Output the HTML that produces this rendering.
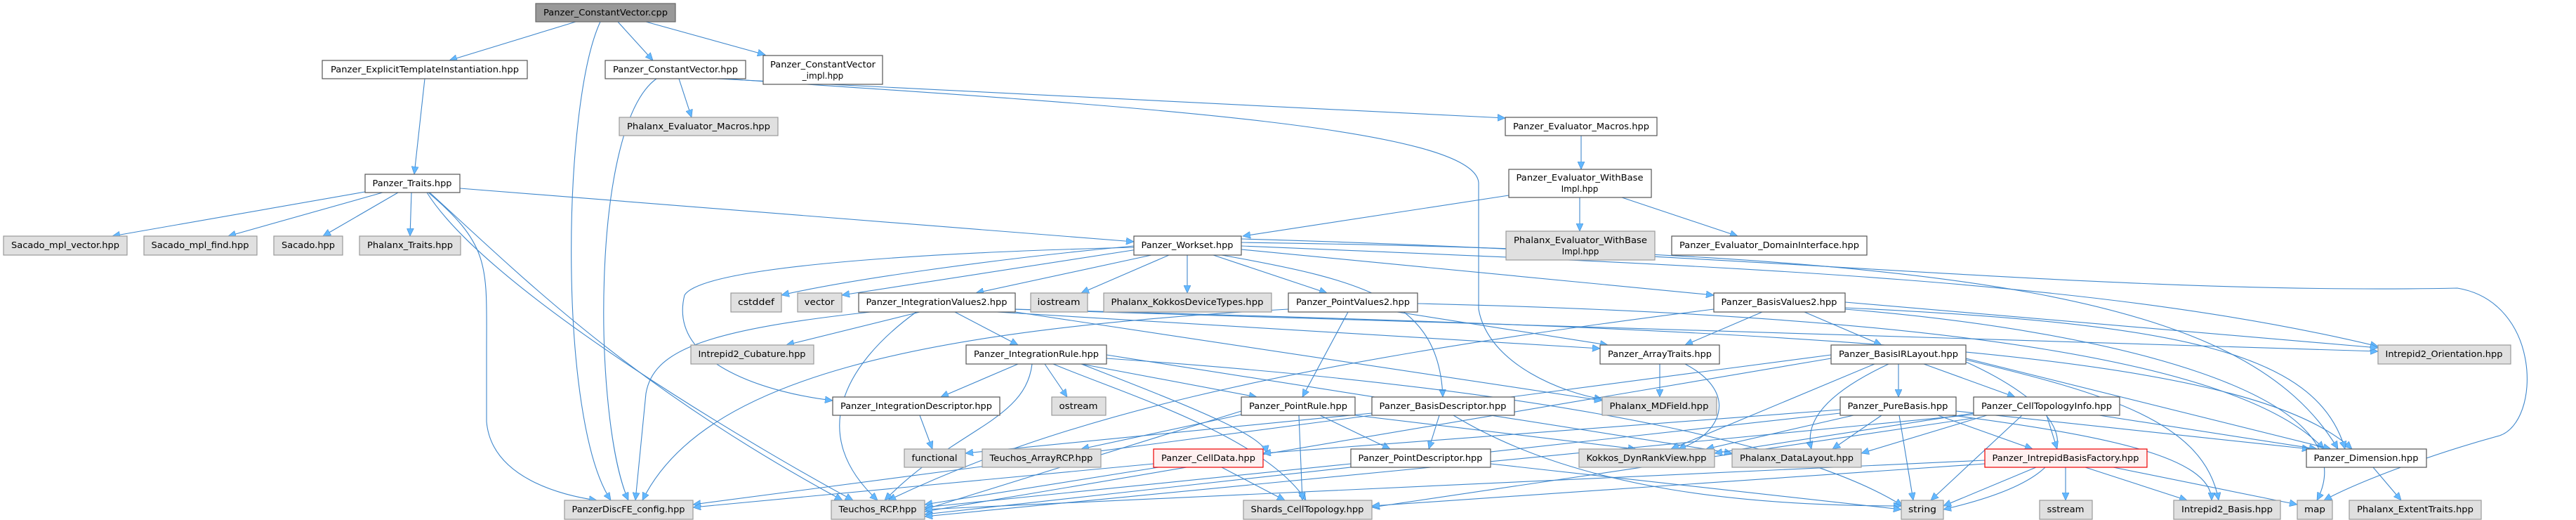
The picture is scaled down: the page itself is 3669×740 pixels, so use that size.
<!DOCTYPE html>
<html><head><meta charset="utf-8"><style>
html,body{margin:0;padding:0;background:#fff;}
svg{display:block;}
.n rect{stroke:#555;stroke-width:1.2;}
.w rect{fill:#fff;}
.g rect{fill:#e0e0e0;stroke:#999;}
.r rect{fill:#fff0f0;stroke:#e00;}
.root rect{fill:#999;stroke:#666;}
text{font-family:"DejaVu Sans","Liberation Sans",sans-serif;font-size:12px;fill:#000;}
.e path{fill:none;stroke:#3f87cc;stroke-width:1.1;marker-end:url(#ah);}
</style></head><body>
<svg width="3669" height="740" viewBox="0 0 3669 740" xmlns="http://www.w3.org/2000/svg">
<defs><marker id="ah" markerUnits="userSpaceOnUse" markerWidth="12" markerHeight="10" refX="11" refY="5" orient="auto"><path d="M0,0 L11,5 L0,10 z" fill="#63b8ff" stroke="#3f87cc" stroke-width="0.6"/></marker></defs>
<g class="e">
<path d="M820 31 L640 86"/>
<path d="M880 31 L930 86"/>
<path d="M920 31 L1090 78"/>
<path d="M855 31 C800 150 795 600 870 712"/>
<path d="M605 112 L590 248"/>
<path d="M967 112 L985 167"/>
<path d="M1020 112 L2144 168"/>
<path d="M935 112 C840 180 845 600 895 712"/>
<path d="M1030 112 C1600 150 2100 180 2106 260 L2106 440 C2120 520 2230 560 2282 568"/>
<path d="M2252 193 L2252 241"/>
<path d="M2250 281 L2250 329"/>
<path d="M2310 281 L2475 336"/>
<path d="M2149 278 L1770 336"/>
<path d="M520 273 L160 336"/>
<path d="M545 274 L325 336"/>
<path d="M567 274 L460 336"/>
<path d="M586 274 L584 336"/>
<path d="M655 268 L1615 344"/>
<path d="M610 274 C700 350 693 380 693 500 L693 600 C700 680 800 705 850 712"/>
<path d="M612 274 C750 400 900 550 1200 712"/>
<path d="M608 274 C700 420 1100 650 1215 712"/>
<path d="M1615 350 C1400 370 1200 400 1113 420"/>
<path d="M1620 355 L1199 420"/>
<path d="M1640 363 L1390 417"/>
<path d="M1665 363 L1540 417"/>
<path d="M1691 363 L1691 417"/>
<path d="M1728 363 L1890 417"/>
<path d="M1768 355 L2441 420"/>
<path d="M1615 352 C1300 360 1000 380 975 420 C950 520 1100 560 1186 570"/>
<path d="M1740 363 C1950 400 2050 430 2055 565"/>
<path d="M1768 350 C2500 380 3000 400 3387 493"/>
<path d="M1768 345 C2800 360 3200 420 3330 639"/>
<path d="M1768 340 C2500 360 3000 420 3500 410 C3620 430 3620 600 3560 620 C3450 650 3350 690 3310 712"/>
<path d="M1310 444 L1120 491"/>
<path d="M1360 444 L1450 491"/>
<path d="M1240 444 C1000 470 930 500 920 560 L905 712"/>
<path d="M1305 444 C1200 520 1150 620 1250 712"/>
<path d="M1420 444 L2279 496"/>
<path d="M1446 440 C2600 470 3200 500 3350 639"/>
<path d="M1446 444 L2282 570"/>
<path d="M1440 440 L3387 500"/>
<path d="M1920 444 L1855 565"/>
<path d="M1990 444 L2290 491"/>
<path d="M2019 432 C2800 450 3200 520 3310 639"/>
<path d="M1835 440 C1300 470 1000 540 915 712"/>
<path d="M2510 444 L2400 491"/>
<path d="M2570 444 L2680 491"/>
<path d="M2628 430 L3387 495"/>
<path d="M2628 438 C3100 460 3300 500 3340 639"/>
<path d="M2628 440 C3000 470 3380 560 3300 712"/>
<path d="M2441 440 C1800 520 1500 600 1265 712"/>
<path d="M1450 518 L1340 565"/>
<path d="M1488 518 L1520 565"/>
<path d="M1540 518 L1790 565"/>
<path d="M1470 518 C1460 600 1360 610 1260 712"/>
<path d="M1500 518 C1600 560 1800 620 1860 712"/>
<path d="M1540 518 C1700 580 1800 620 1804 645"/>
<path d="M1576 510 C2300 560 2600 650 2710 720"/>
<path d="M1576 505 L2467 645"/>
<path d="M1310 591 L1328 639"/>
<path d="M1880 591 L1980 639"/>
<path d="M1850 591 L1855 712"/>
<path d="M1768 585 L1317 725"/>
<path d="M1930 591 L2330 639"/>
<path d="M1768 590 L1540 639"/>
<path d="M2050 591 L2035 639"/>
<path d="M2070 591 C2250 700 2500 720 2708 720"/>
<path d="M1954 588 L1375 645"/>
<path d="M2364 518 L2364 565"/>
<path d="M2400 518 C2480 560 2450 620 2390 639"/>
<path d="M2704 518 L2704 565"/>
<path d="M2740 518 L2870 565"/>
<path d="M2800 510 L3320 639"/>
<path d="M2800 515 C2900 560 3050 660 2768 725"/>
<path d="M2608 510 L1317 728"/>
<path d="M2670 518 L2380 639"/>
<path d="M2690 518 C2600 560 2570 600 2580 639"/>
<path d="M2800 512 C3000 560 3140 600 3160 712"/>
<path d="M2608 505 L987 718"/>
<path d="M2705 591 L2725 712"/>
<path d="M2760 591 L2895 639"/>
<path d="M2621 588 L1317 732"/>
<path d="M2621 583 L1799 645"/>
<path d="M2640 591 L2430 639"/>
<path d="M2680 591 L2610 639"/>
<path d="M2780 591 C3000 620 3150 650 3150 712"/>
<path d="M2786 585 L3290 639"/>
<path d="M2915 591 L2930 639"/>
<path d="M2880 591 L2750 712"/>
<path d="M2990 591 L3300 639"/>
<path d="M2811 590 L1317 735"/>
<path d="M2811 595 L1954 722"/>
<path d="M2830 591 L2651 645"/>
<path d="M2811 588 L2442 645"/>
<path d="M1650 665 L1317 718"/>
<path d="M1740 665 L1830 712"/>
<path d="M1643 660 L987 722"/>
<path d="M1924 660 L1317 722"/>
<path d="M2123 660 L2708 725"/>
<path d="M2942 665 L2942 712"/>
<path d="M2900 665 L2768 720"/>
<path d="M3010 665 L3272 718"/>
<path d="M2970 665 L3115 712"/>
<path d="M2827 655 L1317 725"/>
<path d="M2827 660 L1954 720"/>
<path d="M3380 665 L3420 712"/>
</g>

<g class="n root"><rect x="763" y="5" width="199" height="26"/><text x="862.5" y="22" text-anchor="middle" textLength="177" lengthAdjust="spacingAndGlyphs">Panzer_ConstantVector.cpp</text></g>
<g class="n w"><rect x="459" y="86" width="292" height="26"/><text x="605" y="103" text-anchor="middle" textLength="268" lengthAdjust="spacingAndGlyphs">Panzer_ExplicitTemplateInstantiation.hpp</text></g>
<g class="n w"><rect x="862" y="86" width="200" height="26"/><text x="962" y="103" text-anchor="middle" textLength="178" lengthAdjust="spacingAndGlyphs">Panzer_ConstantVector.hpp</text></g>
<g class="n w"><rect x="1087" y="79" width="170" height="41"/><text x="1172" y="96" text-anchor="middle" textLength="150" lengthAdjust="spacingAndGlyphs">Panzer_ConstantVector</text><text x="1172" y="112" text-anchor="middle">_impl.hpp</text></g>
<g class="n g"><rect x="882" y="167" width="226" height="26"/><text x="995" y="184" text-anchor="middle" textLength="204" lengthAdjust="spacingAndGlyphs">Phalanx_Evaluator_Macros.hpp</text></g>
<g class="n w"><rect x="2144" y="167" width="216" height="26"/><text x="2252" y="184" text-anchor="middle" textLength="194" lengthAdjust="spacingAndGlyphs">Panzer_Evaluator_Macros.hpp</text></g>
<g class="n w"><rect x="2149" y="241" width="203" height="40"/><text x="2250" y="257" text-anchor="middle" textLength="181" lengthAdjust="spacingAndGlyphs">Panzer_Evaluator_WithBase</text><text x="2250" y="273" text-anchor="middle">Impl.hpp</text></g>
<g class="n w"><rect x="520" y="248" width="135" height="26"/><text x="587" y="265" text-anchor="middle" textLength="113" lengthAdjust="spacingAndGlyphs">Panzer_Traits.hpp</text></g>
<g class="n g"><rect x="5" y="336" width="176" height="27"/><text x="93" y="353" text-anchor="middle" textLength="154" lengthAdjust="spacingAndGlyphs">Sacado_mpl_vector.hpp</text></g>
<g class="n g"><rect x="205" y="336" width="161" height="27"/><text x="285" y="353" text-anchor="middle" textLength="139" lengthAdjust="spacingAndGlyphs">Sacado_mpl_find.hpp</text></g>
<g class="n g"><rect x="390" y="336" width="98" height="27"/><text x="439" y="353" text-anchor="middle" textLength="76" lengthAdjust="spacingAndGlyphs">Sacado.hpp</text></g>
<g class="n g"><rect x="512" y="336" width="144" height="27"/><text x="584" y="353" text-anchor="middle" textLength="122" lengthAdjust="spacingAndGlyphs">Phalanx_Traits.hpp</text></g>
<g class="n w"><rect x="1615" y="336" width="153" height="27"/><text x="1691" y="353" text-anchor="middle" textLength="131" lengthAdjust="spacingAndGlyphs">Panzer_Workset.hpp</text></g>
<g class="n g"><rect x="2145" y="329" width="212" height="41"/><text x="2251" y="346" text-anchor="middle" textLength="190" lengthAdjust="spacingAndGlyphs">Phalanx_Evaluator_WithBase</text><text x="2251" y="362" text-anchor="middle">Impl.hpp</text></g>
<g class="n w"><rect x="2381" y="336" width="278" height="27"/><text x="2520" y="353" text-anchor="middle" textLength="256" lengthAdjust="spacingAndGlyphs">Panzer_Evaluator_DomainInterface.hpp</text></g>

<g class="n g"><rect x="1041" y="417" width="72" height="27"/><text x="1077" y="434" text-anchor="middle" textLength="52" lengthAdjust="spacingAndGlyphs">cstddef</text></g>
<g class="n g"><rect x="1136" y="417" width="63" height="27"/><text x="1167" y="434" text-anchor="middle" textLength="43" lengthAdjust="spacingAndGlyphs">vector</text></g>
<g class="n w"><rect x="1223" y="417" width="223" height="27"/><text x="1334" y="434" text-anchor="middle" textLength="201" lengthAdjust="spacingAndGlyphs">Panzer_IntegrationValues2.hpp</text></g>
<g class="n g"><rect x="1468" y="417" width="81" height="27"/><text x="1508" y="434" text-anchor="middle" textLength="61" lengthAdjust="spacingAndGlyphs">iostream</text></g>
<g class="n g"><rect x="1572" y="417" width="239" height="27"/><text x="1691" y="434" text-anchor="middle" textLength="217" lengthAdjust="spacingAndGlyphs">Phalanx_KokkosDeviceTypes.hpp</text></g>
<g class="n w"><rect x="1835" y="417" width="184" height="27"/><text x="1927" y="434" text-anchor="middle" textLength="162" lengthAdjust="spacingAndGlyphs">Panzer_PointValues2.hpp</text></g>
<g class="n w"><rect x="2441" y="417" width="187" height="27"/><text x="2534" y="434" text-anchor="middle" textLength="165" lengthAdjust="spacingAndGlyphs">Panzer_BasisValues2.hpp</text></g>

<g class="n g"><rect x="984" y="491" width="175" height="27"/><text x="1071" y="508" text-anchor="middle" textLength="153" lengthAdjust="spacingAndGlyphs">Intrepid2_Cubature.hpp</text></g>
<g class="n w"><rect x="1376" y="491" width="200" height="27"/><text x="1476" y="508" text-anchor="middle" textLength="178" lengthAdjust="spacingAndGlyphs">Panzer_IntegrationRule.hpp</text></g>
<g class="n w"><rect x="2279" y="491" width="170" height="27"/><text x="2364" y="508" text-anchor="middle" textLength="148" lengthAdjust="spacingAndGlyphs">Panzer_ArrayTraits.hpp</text></g>
<g class="n w"><rect x="2608" y="491" width="192" height="27"/><text x="2704" y="508" text-anchor="middle" textLength="170" lengthAdjust="spacingAndGlyphs">Panzer_BasisIRLayout.hpp</text></g>
<g class="n g"><rect x="3387" y="491" width="189" height="27"/><text x="3481" y="508" text-anchor="middle" textLength="167" lengthAdjust="spacingAndGlyphs">Intrepid2_Orientation.hpp</text></g>

<g class="n w"><rect x="1186" y="565" width="238" height="26"/><text x="1305" y="582" text-anchor="middle" textLength="216" lengthAdjust="spacingAndGlyphs">Panzer_IntegrationDescriptor.hpp</text></g>
<g class="n g"><rect x="1498" y="565" width="77" height="26"/><text x="1536" y="582" text-anchor="middle" textLength="55" lengthAdjust="spacingAndGlyphs">ostream</text></g>
<g class="n w"><rect x="1768" y="565" width="162" height="26"/><text x="1849" y="582" text-anchor="middle" textLength="140" lengthAdjust="spacingAndGlyphs">Panzer_PointRule.hpp</text></g>
<g class="n w"><rect x="1954" y="565" width="203" height="26"/><text x="2055" y="582" text-anchor="middle" textLength="181" lengthAdjust="spacingAndGlyphs">Panzer_BasisDescriptor.hpp</text></g>
<g class="n g"><rect x="2282" y="565" width="163" height="26"/><text x="2363" y="582" text-anchor="middle" textLength="141" lengthAdjust="spacingAndGlyphs">Phalanx_MDField.hpp</text></g>
<g class="n w"><rect x="2621" y="565" width="165" height="26"/><text x="2703" y="582" text-anchor="middle" textLength="143" lengthAdjust="spacingAndGlyphs">Panzer_PureBasis.hpp</text></g>
<g class="n w"><rect x="2811" y="565" width="208" height="26"/><text x="2915" y="582" text-anchor="middle" textLength="186" lengthAdjust="spacingAndGlyphs">Panzer_CellTopologyInfo.hpp</text></g>

<g class="n g"><rect x="1288" y="639" width="87" height="26"/><text x="1331" y="656" text-anchor="middle" textLength="65" lengthAdjust="spacingAndGlyphs">functional</text></g>
<g class="n g"><rect x="1399" y="639" width="169" height="26"/><text x="1483" y="656" text-anchor="middle" textLength="147" lengthAdjust="spacingAndGlyphs">Teuchos_ArrayRCP.hpp</text></g>
<g class="n r"><rect x="1643" y="639" width="156" height="26"/><text x="1721" y="656" text-anchor="middle" textLength="134" lengthAdjust="spacingAndGlyphs">Panzer_CellData.hpp</text></g>
<g class="n w"><rect x="1924" y="639" width="199" height="26"/><text x="2023" y="656" text-anchor="middle" textLength="177" lengthAdjust="spacingAndGlyphs">Panzer_PointDescriptor.hpp</text></g>
<g class="n g"><rect x="2249" y="639" width="193" height="26"/><text x="2345" y="656" text-anchor="middle" textLength="171" lengthAdjust="spacingAndGlyphs">Kokkos_DynRankView.hpp</text></g>
<g class="n g"><rect x="2467" y="639" width="184" height="26"/><text x="2559" y="656" text-anchor="middle" textLength="162" lengthAdjust="spacingAndGlyphs">Phalanx_DataLayout.hpp</text></g>
<g class="n r"><rect x="2827" y="639" width="231" height="26"/><text x="2942" y="656" text-anchor="middle" textLength="209" lengthAdjust="spacingAndGlyphs">Panzer_IntrepidBasisFactory.hpp</text></g>
<g class="n w"><rect x="3285" y="639" width="171" height="26"/><text x="3370" y="656" text-anchor="middle" textLength="149" lengthAdjust="spacingAndGlyphs">Panzer_Dimension.hpp</text></g>

<g class="n g"><rect x="804" y="712" width="183" height="27"/><text x="895" y="729" text-anchor="middle" textLength="161" lengthAdjust="spacingAndGlyphs">PanzerDiscFE_config.hpp</text></g>
<g class="n g"><rect x="1184" y="712" width="133" height="27"/><text x="1250" y="729" text-anchor="middle" textLength="111" lengthAdjust="spacingAndGlyphs">Teuchos_RCP.hpp</text></g>
<g class="n g"><rect x="1771" y="712" width="183" height="27"/><text x="1862" y="729" text-anchor="middle" textLength="161" lengthAdjust="spacingAndGlyphs">Shards_CellTopology.hpp</text></g>
<g class="n g"><rect x="2708" y="712" width="60" height="27"/><text x="2738" y="729" text-anchor="middle" textLength="40" lengthAdjust="spacingAndGlyphs">string</text></g>
<g class="n g"><rect x="2905" y="712" width="75" height="27"/><text x="2942" y="729" text-anchor="middle" textLength="53" lengthAdjust="spacingAndGlyphs">sstream</text></g>
<g class="n g"><rect x="3096" y="712" width="152" height="27"/><text x="3172" y="729" text-anchor="middle" textLength="130" lengthAdjust="spacingAndGlyphs">Intrepid2_Basis.hpp</text></g>
<g class="n g"><rect x="3272" y="712" width="50" height="27"/><text x="3297" y="729" text-anchor="middle" textLength="30" lengthAdjust="spacingAndGlyphs">map</text></g>
<g class="n g"><rect x="3346" y="712" width="188" height="27"/><text x="3440" y="729" text-anchor="middle" textLength="166" lengthAdjust="spacingAndGlyphs">Phalanx_ExtentTraits.hpp</text></g>
</svg>
</body></html>
